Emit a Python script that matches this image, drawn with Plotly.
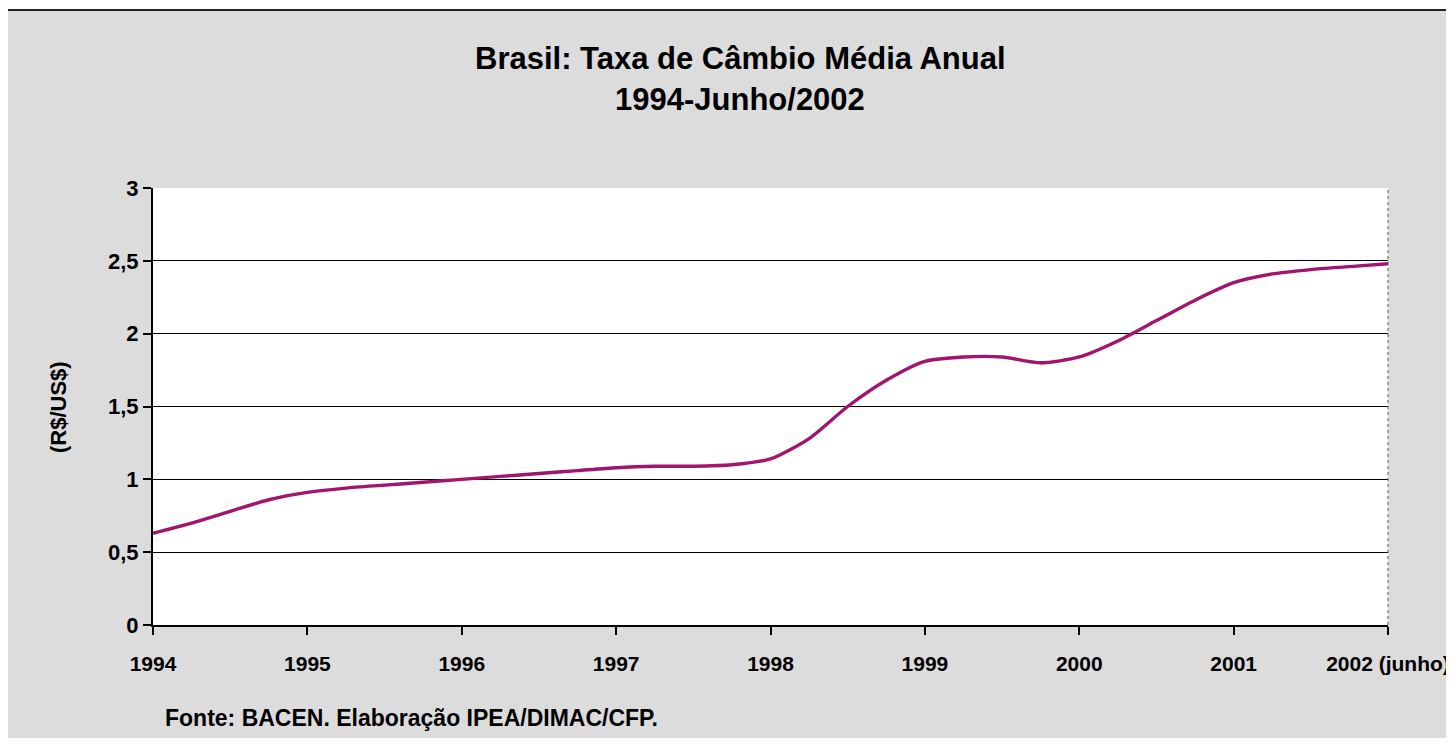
import plotly.graph_objects as go

# Quarterly readings of the exchange rate (R$/US$) from the chart
periods = [1994.0, 1994.25, 1994.5, 1994.75,
           1995.0, 1995.25, 1995.5, 1995.75,
           1996.0, 1996.25, 1996.5, 1996.75,
           1997.0, 1997.25, 1997.5, 1997.75,
           1998.0, 1998.25, 1998.5, 1998.75,
           1999.0, 1999.25, 1999.5, 1999.75,
           2000.0, 2000.25, 2000.5, 2000.75,
           2001.0, 2001.25, 2001.5, 2001.75,
           2002.0]
rates = [0.63, 0.70, 0.78, 0.86,
         0.91, 0.94, 0.96, 0.98,
         1.00, 1.02, 1.04, 1.06,
         1.08, 1.09, 1.09, 1.10,
         1.14, 1.28, 1.50, 1.68,
         1.81, 1.84, 1.84, 1.80,
         1.84, 1.95, 2.09, 2.23,
         2.35, 2.41, 2.44, 2.46,
         2.48]

tick_years = [1994, 1995, 1996, 1997, 1998, 1999, 2000, 2001, 2002]
tick_labels = ["1994", "1995", "1996", "1997", "1998", "1999", "2000", "2001", "2002 (junho)"]
y_ticks = [0, 0.5, 1, 1.5, 2, 2.5, 3]
y_labels = ["0", "0,5", "1", "1,5", "2", "2,5", "3"]

title_1 = "Brasil: Taxa de Câmbio Média Anual"
title_2 = "1994-Junho/2002"
y_title = "(R$/US$)"
source = "Fonte: BACEN. Elaboração IPEA/DIMAC/CFP."

# page body has an 8px margin; work in window coordinates and shift
OFF = 8
W, H = 1454 - OFF, 746 - 2 * OFF
L, R, T, B = 153 - OFF, 1388 - OFF, 188 - OFF, 625 - OFF
pw, ph = R - L, B - T

def px(x):
    return (x - OFF - L) / pw

def py(y):
    return (B - (y - OFF)) / ph

FONT = "Liberation Sans, Arial, sans-serif"

fig = go.Figure()
fig.add_trace(go.Scatter(
    x=periods, y=rates, mode="lines",
    line=dict(color="#a3146f", width=3.4, shape="spline", smoothing=0.7),
    hoverinfo="x+y", showlegend=False,
))

fig.update_layout(
    width=W, height=H,
    margin=dict(l=L, r=W - R, t=T, b=H - B, autoexpand=False),
    paper_bgcolor="white",
    plot_bgcolor="white",
    font=dict(family=FONT, color="black"),
    xaxis=dict(
        range=[1994, 2002], tickvals=tick_years, ticktext=tick_labels,
        showgrid=False, zeroline=False,
        showline=True, linecolor="black", linewidth=2,
        ticks="outside", ticklen=8, tickwidth=1.5, tickcolor="black",
        tickfont=dict(family=FONT, size=21, weight="bold", color="black"),
        ticklabelstandoff=11,
    ),
    yaxis=dict(
        range=[0, 3], tickvals=y_ticks, ticktext=y_labels,
        showgrid=True, gridcolor="black", gridwidth=1.4,
        zeroline=False,
        showline=True, linecolor="black", linewidth=2,
        ticks="outside", ticklen=8, tickwidth=1.5, tickcolor="black",
        tickfont=dict(family=FONT, size=22, weight="bold", color="black"),
    ),
    shapes=[
        # textured-gray chart area with outer border
        dict(type="rect", xref="paper", yref="paper", layer="below",
             x0=px(6), x1=px(1470), y0=py(770), y1=py(10),
             fillcolor="#dcdcdc", line=dict(color="#222222", width=2)),
        # white plotting area
        dict(type="rect", xref="paper", yref="paper", layer="below",
             x0=0, x1=1, y0=0, y1=1,
             fillcolor="white", line=dict(width=0)),
        # faint right edge of plot area
        dict(type="line", xref="paper", yref="paper", layer="above",
             x0=1, x1=1, y0=0, y1=1,
             line=dict(color="#555555", width=1, dash="dot")),
    ],
    annotations=[
        dict(text=title_1, xref="paper", yref="paper", x=px(740), y=py(58),
             xanchor="center", yanchor="middle", showarrow=False,
             font=dict(family=FONT, size=31, weight="bold", color="black")),
        dict(text=title_2, xref="paper", yref="paper", x=px(740), y=py(100),
             xanchor="center", yanchor="middle", showarrow=False,
             font=dict(family=FONT, size=31, weight="bold", color="black")),
        dict(text=y_title, xref="paper", yref="paper", x=px(58), y=py(407),
             xanchor="center", yanchor="middle", showarrow=False, textangle=-90,
             font=dict(family=FONT, size=22, weight="bold", color="black")),
        dict(text=source, xref="paper", yref="paper", x=px(163), y=py(718),
             xanchor="left", yanchor="middle", showarrow=False,
             font=dict(family=FONT, size=23, weight="bold", color="black")),
    ],
)

fig.write_html("out.html")
